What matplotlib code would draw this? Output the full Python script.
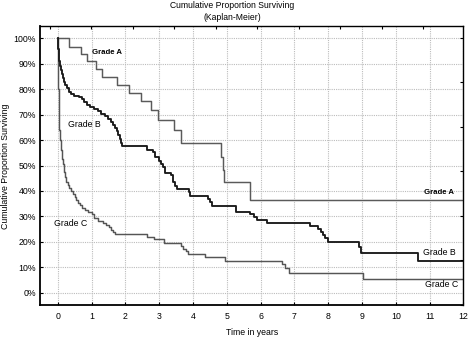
import matplotlib
matplotlib.use("Agg")
import matplotlib.pyplot as plt
import numpy as np

plt.rcParams["font.family"] = ["Liberation Sans", "DejaVu Sans"]

# Kaplan-Meier step points: time (years) where the step happens, survival (%) after it
grade_a_t = [0.0, 0.33, 0.68, 0.85, 1.12, 1.30, 1.74, 2.09, 2.45, 2.75, 2.97,
             3.45, 3.65, 4.82, 4.88, 4.93, 5.68]
grade_a_s = [100, 96.6, 94.0, 91.0, 88.0, 85.0, 81.8, 78.5, 75.2, 71.9, 68.0,
             63.8, 58.8, 53.5, 48.3, 43.4, 36.3]

grade_b_t = [0.0, 0.01, 0.02, 0.04, 0.06, 0.09, 0.12, 0.15, 0.18, 0.22, 0.28,
             0.33, 0.40, 0.48, 0.62, 0.70, 0.76, 0.85, 0.95, 1.08, 1.18, 1.28,
             1.40, 1.48, 1.56, 1.63, 1.68, 1.75, 1.78, 1.83, 1.87, 1.90, 2.63,
             2.82, 2.88, 2.98, 3.05, 3.10, 3.17, 3.34, 3.42, 3.48, 3.52, 3.87,
             3.92, 4.43, 4.50, 4.56, 5.27, 5.70, 5.80, 5.88, 6.19, 7.45, 7.70,
             7.78, 7.85, 7.92, 7.99, 8.90, 8.98, 10.66]
grade_b_s = [100, 96, 93, 91, 89, 87.5, 86, 84.5, 83, 81.5, 80.5,
             79, 78.2, 77.5, 77, 76, 75, 74, 73, 72.3, 71.5, 70.2,
             69.3, 68.4, 67, 66, 64.7, 63.5, 62, 60.5, 59, 57.5, 56.3,
             55.4, 53.5, 51.6, 50.5, 49.6, 47.2, 46.3, 43.7, 42, 40.7, 39.4,
             38.1, 36.8, 35.5, 33.9, 31.9, 31.0, 29.8, 28.7, 27.2, 26.1, 25.0,
             23.8, 22.6, 21.4, 20.1, 18.0, 15.6, 12.6]

grade_c_t = [0.0, 0.005, 0.01, 0.02, 0.04, 0.07, 0.10, 0.13, 0.16, 0.19, 0.21,
             0.24, 0.29, 0.34, 0.40, 0.45, 0.50, 0.55, 0.60, 0.65, 0.72, 0.80,
             0.90, 1.00, 1.08, 1.18, 1.34, 1.42, 1.50, 1.56, 1.63, 1.69, 2.65,
             2.85, 3.15, 3.64, 3.70, 3.78, 3.86, 4.34, 4.95, 6.62, 6.72, 6.84,
             9.04]
grade_c_s = [100, 90, 80, 72, 64, 60, 56, 52.5, 50.5, 47.5, 45.5,
             43.5, 42.2, 41, 39.8, 38.9, 37.5, 36.3, 35.3, 34.3, 33.2, 32.4,
             31.6, 30.8, 29.5, 28.1, 27.5, 26.6, 25.7, 24.7, 23.8, 23.1, 21.9,
             21.0, 19.7, 18.4, 17.1, 16.2, 15.3, 13.9, 12.6, 11.3, 9.6, 7.6,
             5.3]

t_end = 12.0
x_ticks = list(range(0, 13))
y_ticks = list(range(0, 101, 10))

# curve labels: (text, t, survival, bold)
labels = [
    ("Grade A", 1.45, 94.4, True),
    ("Grade A", 11.28, 39.3, True),
    ("Grade B", 0.77, 66.2, False),
    ("Grade B", 11.3, 15.6, False),
    ("Grade C", 0.39, 27.2, False),
    ("Grade C", 11.35, 3.2, False),
]


def extend(t, s):
    return list(t) + [t_end], list(s) + [s[-1]]


fig = plt.figure(figsize=(4.69, 3.38), dpi=100)
ax = fig.add_axes([0.0853, 0.0967, 0.9026, 0.8249])

grid_kw = dict(color="#bcbcbc", linestyle=(0, (1, 1)), linewidth=0.8)
ax.grid(True, **grid_kw)
ax.set_axisbelow(True)

for t, s, col, lw in [
    (grade_a_t, grade_a_s, "#5a5a5a", 1.05),
    (grade_c_t, grade_c_s, "#555555", 1.05),
    (grade_b_t, grade_b_s, "#1a1a1a", 1.35),
]:
    xs, ys = extend(t, s)
    ax.step(xs, ys, where="post", color=col, linewidth=lw)

for text, tx, ty, bold in labels:
    ax.text(tx, ty, text, ha="center", va="center",
            fontsize=5.6 if bold else 6.3,
            fontweight="bold" if bold else "normal", color="black")

ax.set_xlim(-0.53, 12)
ax.set_ylim(-5, 104.7)
ax.set_xticks(x_ticks)
ax.set_yticks(y_ticks)
ax.set_yticklabels([f"{v}%" for v in y_ticks])
ax.tick_params(direction="in", length=2.5, width=0.8, labelsize=6.3)
ax.tick_params(axis="x", pad=5)
ax.tick_params(axis="y", pad=3)

for side in ["left", "bottom"]:
    ax.spines[side].set_linewidth(1.3)
for side in ["top", "right"]:
    ax.spines[side].set_linewidth(1.0)

ax.set_xlabel("Time in years", fontsize=6.3, va="center")
ax.xaxis.set_label_coords(0.5, -0.099)
ax.set_ylabel("Cumulative Proportion Surviving", fontsize=6.3,
              va="center", ha="center")
ax.yaxis.set_label_coords(-0.082, 0.5)

# Statistica-style secondary tick marks on the top and right frame
top = ax.twiny()
top.set_xlim(0, 1)
top.set_xticks(np.arange(0.0236, 1.0, 0.098))
top.tick_params(direction="in", length=2.5, width=0.8, labeltop=False)
right = ax.twinx()
right.set_ylim(0, 1)
right.set_yticks(1 - np.arange(0.0402, 1.0, 0.1596))
right.tick_params(direction="in", length=2.5, width=0.8, labelright=False)
for a in (top, right):
    for sp in a.spines.values():
        sp.set_visible(False)

fig.text(0.495, 0.997, "Cumulative Proportion Surviving\n(Kaplan-Meier)",
         ha="center", va="top", fontsize=6.2, linespacing=1.4)

fig.savefig("out.png", dpi=100)
